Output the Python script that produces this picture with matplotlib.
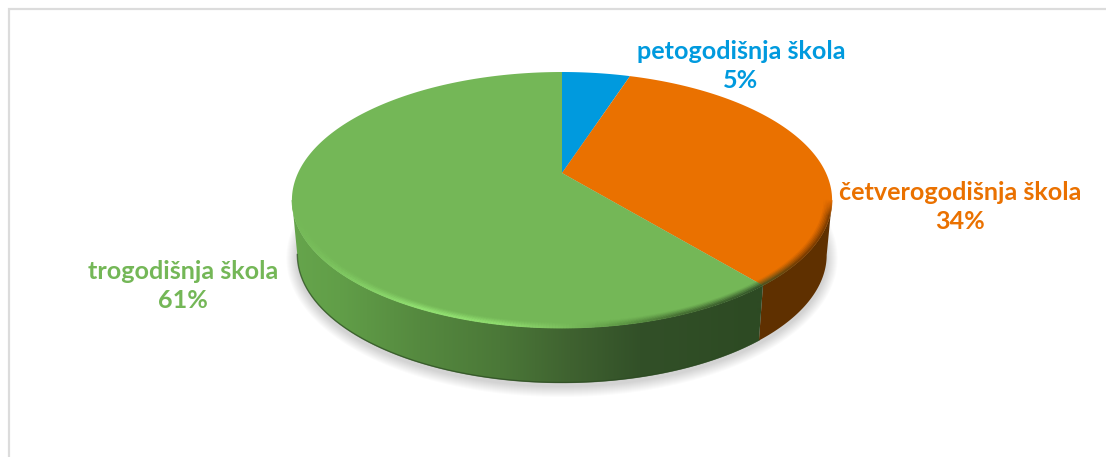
import numpy as np
import matplotlib
matplotlib.use('Agg')
import matplotlib.pyplot as plt
from matplotlib.collections import LineCollection
from matplotlib.colors import to_rgb
from matplotlib.patches import PathPatch
from matplotlib.path import Path

plt.rcParams['font.family'] = ['Lato', 'DejaVu Sans']

# data
categories = ['petogodišnja škola', 'četverogodišnja škola', 'trogodišnja škola']
shares = [5, 34, 61]
colors = ['#009ade', '#ea7100', '#74b757']
wall_colors = ['#004f75', '#5f3000', None]

# shading along the green wall and the front rim (x pixel, colour)
wall_x = [292, 340, 420, 500, 570, 640, 757]
wall_c = ['#66a54c', '#619e48', '#55893f', '#4b7838', '#3f6230', '#325028', '#2d4a23']
rim_x = [292, 340, 420, 500, 560, 620, 680, 757, 800, 833]
rim_c = ['#74b757', '#7fc861', '#92e272', '#8fdc6e', '#7cc05e', '#5f9a46', '#466f33', '#35552a', '#6a3500', '#6a3500']

# geometry of the tilted disc, in image pixels
CX, CY = 562, 173
A, B, K = 264, 122.3, 0.211
DEPTH = 55
BOTTOM_SCALE = 0.98


def project(theta, r=1.0):
    # circle -> perspective ellipse, theta clockwise from the top
    u, v = r * np.sin(theta), r * np.cos(theta)
    d = 1 + K * v
    return CX + A * u / d, CY - B * v / d


def arc(t0, t1, r=1.0, n=200):
    return project(np.linspace(t0, t1, n), r)


def lower(x, y):
    return CX + (x - CX) * BOTTOM_SCALE, y + DEPTH


fig = plt.figure(figsize=(11.06, 4.57), dpi=100)
ax = fig.add_axes([0, 0, 1, 1])
ax.axis('off')

# chart frame
ax.plot([9, 9, 1106], [457, 9, 9], color='#dcdcdc', lw=1.6, solid_joinstyle='miter', zorder=1)

# soft shadow under the disc
sx, sy = arc(0, 2 * np.pi, n=300)
sx, sy = lower(sx, sy)
mx, my = 0.5 * (sx.min() + sx.max()), 0.5 * (sy.min() + sy.max())
for grow in np.linspace(11, 1, 11):
    ax.fill(mx + (sx - mx) * (1 + grow / 265), my + (sy - my) * (1 + grow / 128) + 3,
            color='black', alpha=0.016, lw=0, zorder=2)

edges = 2 * np.pi * np.cumsum([0] + shares) / sum(shares)

# side wall, only the part facing the viewer
FRONT0 = np.pi / 2 + np.arcsin(K)
FRONT1 = 2 * np.pi - FRONT0
grad_rgb = np.array([to_rgb(c) for c in wall_c])
px = np.arange(1106)
grad = np.stack([np.interp(px, wall_x, grad_rgb[:, k]) for k in range(3)], axis=1)[None, :, :]
for i in range(3):
    t0, t1 = max(edges[i], FRONT0), min(edges[i + 1], FRONT1)
    if t1 <= t0:
        continue
    x, y = arc(t0, t1)
    bx, by = lower(x, y)
    vx = np.r_[x, bx[::-1]]
    vy = np.r_[y, by[::-1]]
    if wall_colors[i] is None:
        im = ax.imshow(grad, extent=[0, 1106, 457, 0], aspect='auto', zorder=3, interpolation='bilinear')
        patch = PathPatch(Path(np.c_[vx, vy]), transform=ax.transData, fc='none', ec='none')
        ax.add_patch(patch)
        im.set_clip_path(patch)
        ax.plot(bx, by - 0.5, color='#2c4a22', lw=1.0, alpha=0.7, zorder=3.5)
    else:
        ax.fill(vx, vy, color=wall_colors[i], lw=0, zorder=3)

ax.set_xlim(0, 1106)
ax.set_ylim(457, 0)

# top faces
for i in range(3):
    x, y = arc(edges[i], edges[i + 1])
    ax.fill(np.r_[CX, x], np.r_[CY, y], color=colors[i], lw=0, zorder=4)

# bevel along the front rim: thin bands getting closer to the rim colour
rim_rgb = np.array([to_rgb(c) for c in rim_c])
for i in (1, 2):
    t0, t1 = max(edges[i], FRONT0), min(edges[i + 1], FRONT1)
    ts = np.linspace(t0, t1, 240)
    face = np.array(to_rgb(colors[i]))
    for r, w in zip([0.974, 0.979, 0.984, 0.989, 0.994, 0.998], [0.12, 0.3, 0.5, 0.7, 0.9, 1.0]):
        x, y = project(ts, r)
        pts = np.c_[x, y]
        segs = np.stack([pts[:-1], pts[1:]], axis=1)
        mid = 0.5 * (x[:-1] + x[1:])
        rim = np.stack([np.interp(mid, rim_x, rim_rgb[:, k]) for k in range(3)], axis=1)
        # the rim ends blend back into the face colour
        fade = np.clip((ts[:-1] - FRONT0) / 0.12, 0, 1) * np.clip((FRONT1 - ts[:-1]) / 0.12, 0, 1)
        cols = face + (rim - face) * (w * fade)[:, None]
        ax.add_collection(LineCollection(segs, colors=cols, linewidths=1.2, zorder=5, capstyle='butt'))

# labels
label_pos = [(741, 66), (960, 207), (183, 286)]
for name, val, col, (lx, ly) in zip(categories, shares, colors, label_pos):
    ax.text(lx, ly, f'{name}\n{val}%', color=col, fontsize=18.1, fontweight='bold',
            ha='center', va='center', linespacing=1.36, zorder=6)

fig.savefig('out.png', dpi=100)
